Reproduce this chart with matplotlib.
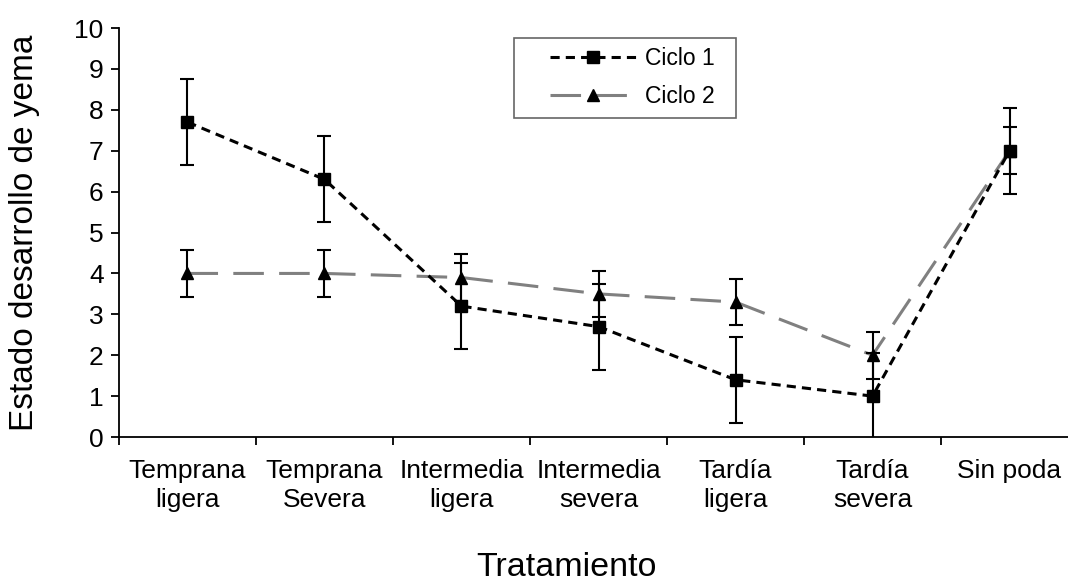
import matplotlib
matplotlib.use('Agg')
import matplotlib.pyplot as plt
from matplotlib.legend_handler import HandlerLine2D
import numpy as np

plt.rcParams['font.family'] = ['Liberation Sans', 'DejaVu Sans']

tratamientos = ['Temprana\nligera', 'Temprana\nSevera', 'Intermedia\nligera', 'Intermedia\nsevera',
                'Tardía\nligera', 'Tardía\nsevera', 'Sin poda']
ciclo1 = [7.7, 6.3, 3.2, 2.7, 1.4, 1.0, 7.0]
ciclo2 = [4.0, 4.0, 3.9, 3.5, 3.3, 2.0, 7.0]
err1 = [1.05, 1.05, 1.05, 1.05, 1.05, 1.05, 1.05]
err2 = [0.57, 0.57, 0.57, 0.57, 0.57, 0.57, 0.57]

x = np.arange(len(tratamientos))

fig = plt.figure(figsize=(10.68, 5.82), dpi=100)
ax = fig.add_axes([0.1114, 0.2491, 0.898, 0.7027])

l1, = ax.plot(x, ciclo1, color='black', lw=2.2, ls=(0, (3, 2)), marker='s', ms=9,
              mfc='black', mec='black', label='Ciclo 1  ', zorder=3)
ax.errorbar(x, ciclo1, yerr=err1, fmt='none', ecolor='black', elinewidth=1.5, capsize=5,
            capthick=1.5, zorder=4)
l2, = ax.plot(x, ciclo2, color='#808080', lw=2.2, ls=(0, (10, 5)), marker='^', ms=9,
              mfc='black', mec='black', label='Ciclo 2  ', zorder=2)
ax.errorbar(x, ciclo2, yerr=err2, fmt='none', ecolor='black', elinewidth=1.5, capsize=5,
            capthick=1.5, zorder=4)

ax.set_xlim(-0.5, 6.5)
ax.set_ylim(0, 10)
ax.set_yticks(range(0, 11))
ax.tick_params(axis='y', labelsize=19, direction='out', length=6, width=1.3, pad=5)

# categorías centradas, marcas entre categorías (estilo Excel)
ax.set_xticks(np.arange(-0.5, 7.0, 1.0))
ax.set_xticklabels([])
ax.set_xticks(x, minor=True)
ax.set_xticklabels(tratamientos, minor=True, fontsize=19, linespacing=1.25)
ax.tick_params(axis='x', which='major', direction='out', length=6, width=1.3)
ax.tick_params(axis='x', which='minor', length=0, pad=16)

for s in ['top', 'right']:
    ax.spines[s].set_visible(False)
for s in ['left', 'bottom']:
    ax.spines[s].set_linewidth(1.3)

ax.set_ylabel('Estado desarrollo de yema', fontsize=24)
ax.yaxis.set_label_coords(-0.082, 0.5)
ax.set_xlabel('Tratamiento', fontsize=24.5)
ax.xaxis.set_label_coords((566 - 119) / 959, -0.282)

hm = {l1: HandlerLine2D(xpad=1.18), l2: HandlerLine2D(xpad=1.18)}
leg = ax.legend(handles=[l1, l2], loc='upper left', bbox_to_anchor=(0.412, 0.975),
                fontsize=16.5, frameon=True, fancybox=False, edgecolor='#404040',
                handlelength=4.9, handletextpad=0.4, borderpad=0.4, labelspacing=0.65,
                borderaxespad=0, handler_map=hm)
leg.get_frame().set_linewidth(1.2)

fig.savefig('out.png', dpi=100)
